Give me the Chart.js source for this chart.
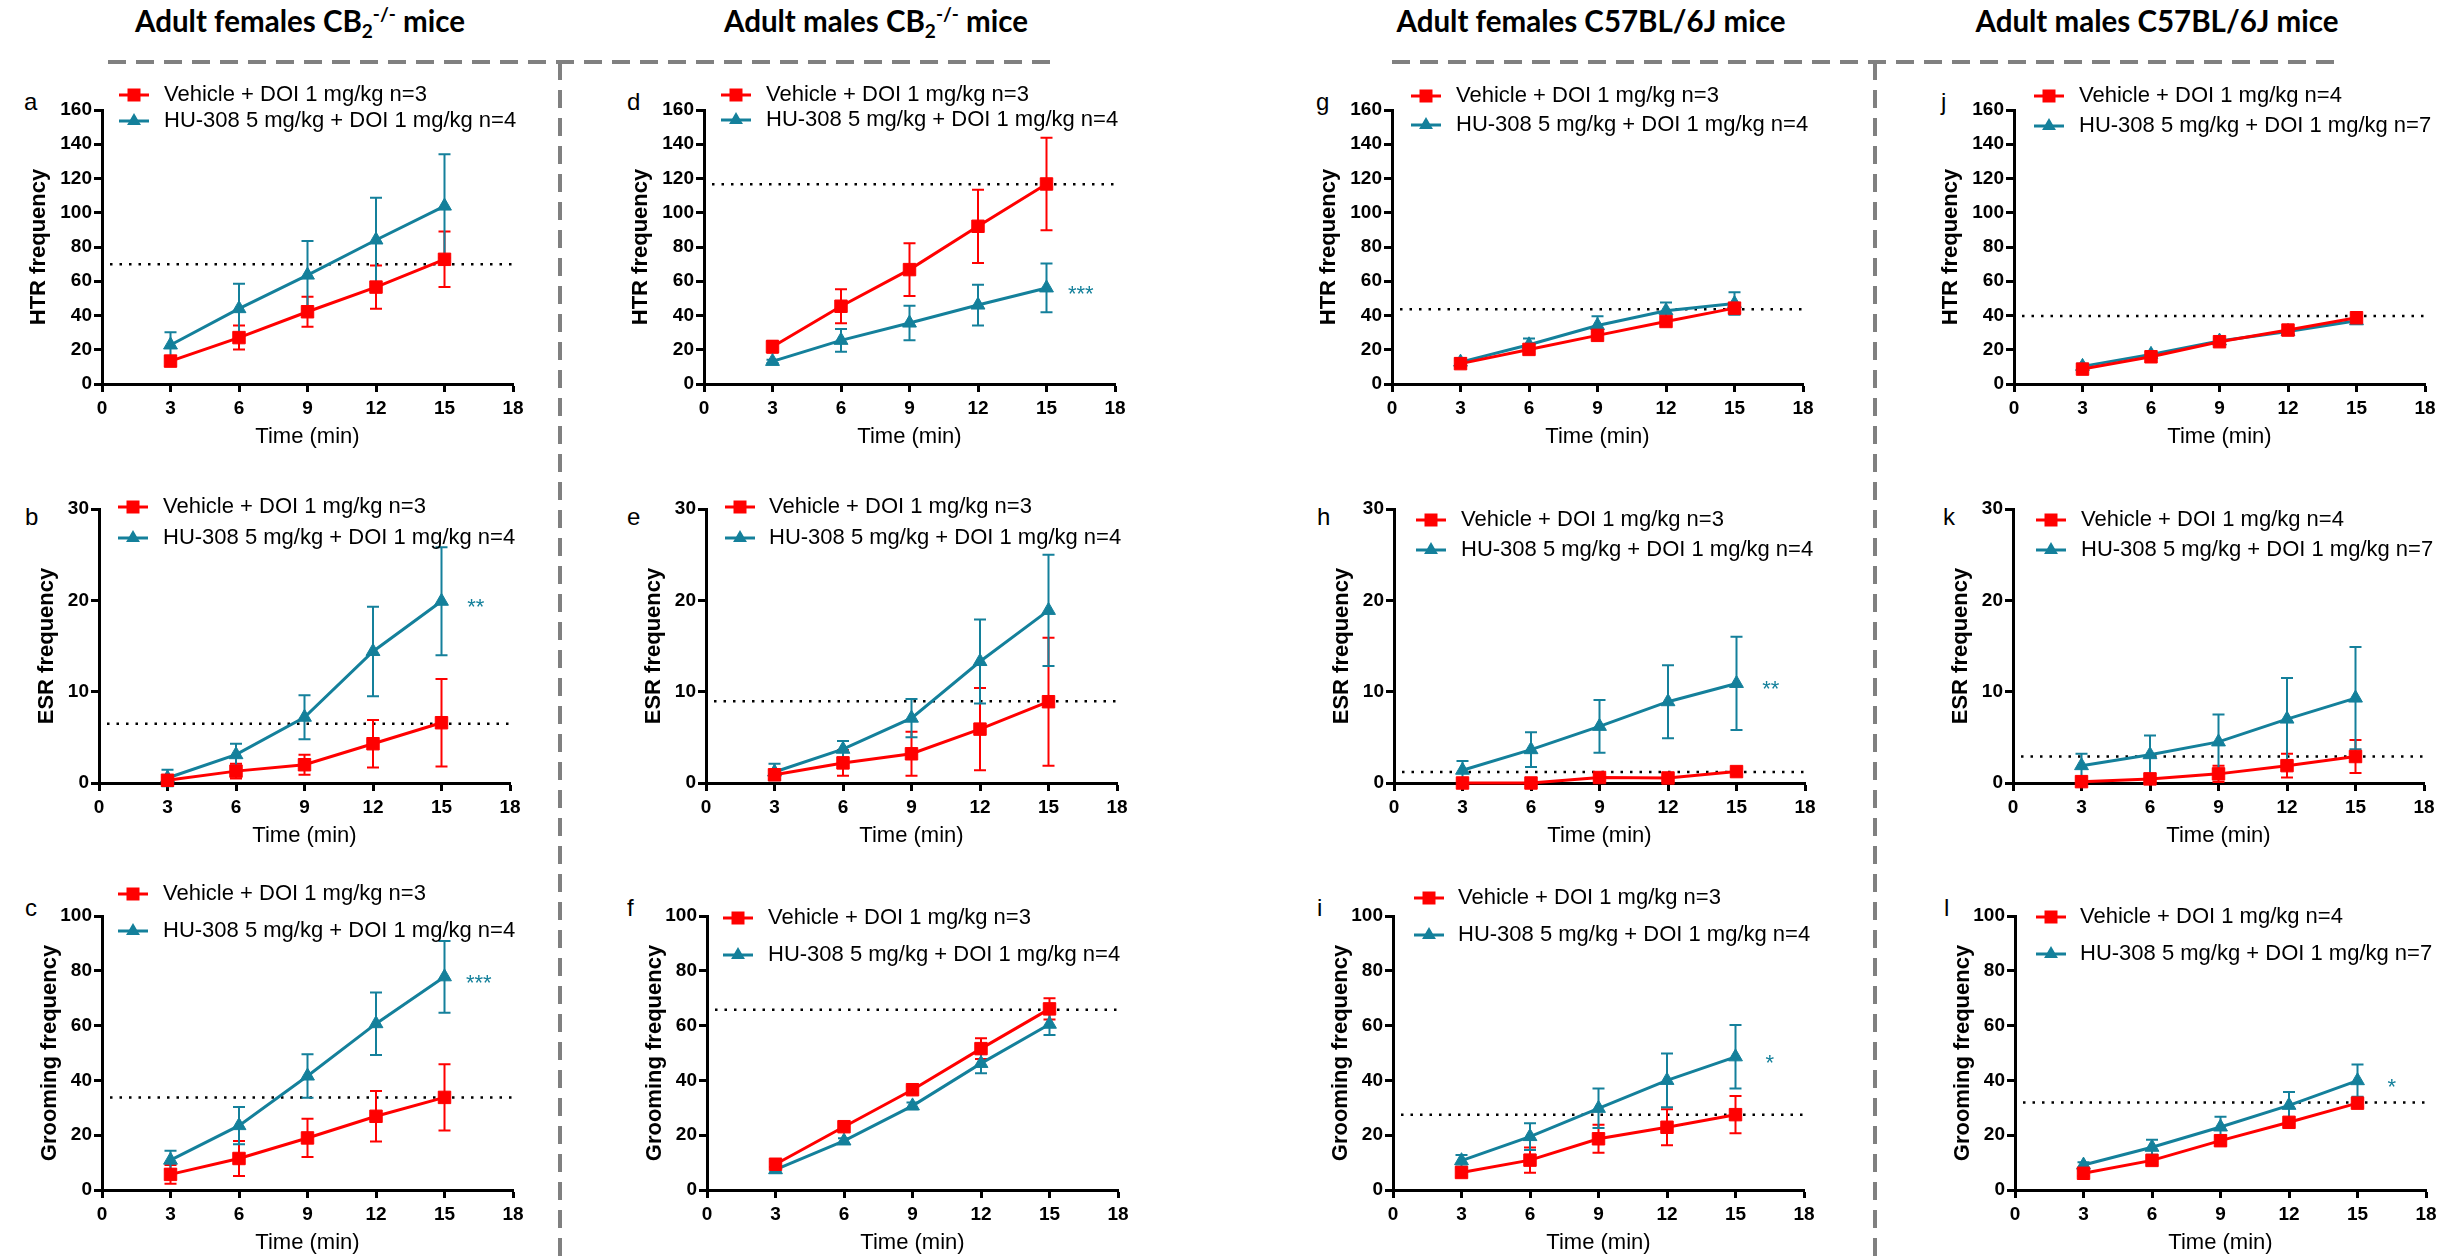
<!DOCTYPE html>
<html>
<head>
<meta charset="utf-8">
<script src="https://cdn.jsdelivr.net/npm/chart.js@4.4.0/dist/chart.umd.min.js"></script>
<style>
  html, body { margin: 0; padding: 0; background: #fff; }
  #fig { position: relative; width: 2463px; height: 1258px; overflow: hidden; background: #fff; }
  #fig canvas, #fig svg { position: absolute; }
</style>
</head>
<body>
<div id="fig">
  <svg id="decor" width="2463" height="1258" style="left:0;top:0">
    <g stroke="#808080" stroke-width="4" stroke-dasharray="18 10" fill="none">
      <path d="M108 62 H1057"/>
      <path d="M560 62 V1258"/>
      <path d="M1392 62 H2342"/>
      <path d="M1875 62 V1258"/>
    </g>
    <g font-family="Lato, 'Open Sans', sans-serif" font-weight="700" font-size="29.5" fill="#000" text-anchor="middle">
      <text x="300" y="32">Adult females CB<tspan font-size="19" dy="6">2</tspan><tspan font-size="19" dy="-17">-/-</tspan><tspan dy="11"> mice</tspan></text>
      <text x="876" y="32">Adult males CB<tspan font-size="19" dy="6">2</tspan><tspan font-size="19" dy="-17">-/-</tspan><tspan dy="11"> mice</tspan></text>
      <text x="1591" y="32">Adult females C57BL/6J mice</text>
      <text x="2157" y="32">Adult males C57BL/6J mice</text>
    </g>
    <g id="letters" font-family="'Liberation Sans', Arial, sans-serif" font-size="24" fill="#000"></g>
  </svg>
</div>
<script>
// time points and axis ticks
const times = [3, 6, 9, 12, 15];
const xTicks = [0, 3, 6, 9, 12, 15, 18];
const htrTicks = [0, 20, 40, 60, 80, 100, 120, 140, 160];
const esrTicks = [0, 10, 20, 30];
const groomTicks = [0, 20, 40, 60, 80, 100];

// columns: CB2-/- females, CB2-/- males, C57BL/6J females, C57BL/6J males
const vehicleN = [3, 3, 3, 4];
const huN = [4, 4, 4, 7];

// HTR (panels a, d, g, j)
const htrVehicle = [
  [13.4, 27.1, 42.2, 56.6, 72.8],
  [21.8, 45.4, 66.8, 92.1, 116.8],
  [11.9, 20.2, 28.4, 36.5, 44.3],
  [8.7, 15.9, 24.7, 31.5, 38.7]
];
const htrVehicleSem = [
  [3, 7, 8.7, 12.6, 16.2],
  [3.5, 9.9, 15.4, 21.4, 27],
  [2, 2, 2, 2.5, 3],
  [1.5, 1.5, 1.5, 2, 2]
];
const htrHU = [
  [22.8, 44, 63.6, 84.1, 103.9],
  [13.2, 25.5, 35.6, 46.1, 56.1],
  [12.8, 22.9, 34.2, 42.8, 47],
  [10.3, 17.3, 25.1, 30.7, 36.9]
];
const htrHUSem = [
  [7.4, 14.6, 19.9, 24.7, 30.2],
  [1, 6.6, 10.1, 11.9, 14.2],
  [2.4, 3.7, 5.4, 4.8, 6.6],
  [1.5, 1.5, 1.5, 1.5, 1.5]
];
const htrRef = [70, 116.6, 43.6, 39.7];
const htrStars = ['', '***', '', ''];

// ESR (panels b, e, h, k)
const esrVehicle = [
  [0.3, 1.3, 2.0, 4.3, 6.6],
  [0.9, 2.2, 3.2, 5.9, 8.9],
  [0, 0, 0.6, 0.55, 1.25],
  [0.15, 0.45, 1.0, 1.9, 2.9]
];
const esrVehicleSem = [
  [0.3, 0.8, 1.1, 2.6, 4.8],
  [0.5, 1.4, 2.4, 4.5, 7],
  [0, 0, 0.3, 0.3, 0.3],
  [0.15, 0.3, 0.9, 1.3, 1.8]
];
const esrHU = [
  [0.55, 3.1, 7.2, 14.4, 19.9],
  [1.2, 3.7, 7.1, 13.3, 18.9],
  [1.4, 3.65, 6.2, 8.9, 10.9],
  [1.9, 3.1, 4.5, 7.0, 9.3]
];
const esrHUSem = [
  [0.9, 1.2, 2.4, 4.9, 5.9],
  [0.9, 0.9, 2.1, 4.6, 6.1],
  [1.0, 1.9, 2.9, 4.0, 5.1],
  [1.3, 2.1, 3.0, 4.5, 5.6]
];
const esrRef = [6.5, 8.95, 1.2, 2.9];
const esrStars = ['**', '', '**', ''];

// Grooming (panels c, f, i, l)
const groomVehicle = [
  [5.7, 11.5, 19.0, 26.9, 33.8],
  [9.4, 23.1, 36.6, 51.6, 66.1],
  [6.4, 10.9, 18.7, 22.9, 27.5],
  [6.1, 10.8, 18.0, 24.7, 31.7]
];
const groomVehicleSem = [
  [3.4, 6.4, 7.0, 9.2, 12.1],
  [1, 1, 1.2, 3.8, 3.9],
  [1.5, 4.6, 5.1, 6.6, 6.8],
  [1, 1.2, 1.8, 1.5, 1.5]
];
const groomHU = [
  [10.9, 23.5, 41.6, 60.7, 77.8],
  [7.4, 17.9, 30.7, 46.2, 60.5],
  [10.7, 19.5, 29.8, 40.0, 48.6],
  [9.1, 15.6, 23.0, 30.9, 39.9]
];
const groomHUSem = [
  [3.4, 6.8, 7.9, 11.4, 13.1],
  [1, 1, 1.2, 3.6, 3.9],
  [2.1, 4.9, 7.2, 9.8, 11.6],
  [1, 2.7, 3.7, 4.9, 5.9]
];
const groomRef = [33.8, 65.8, 27.5, 31.9];
const groomStars = ['***', '', '*', '*'];

const RED = '#ff0000';
const TEAL = '#14809b';
const FONT = '"Liberation Sans", Arial, sans-serif';
const STAR_X = 16.5;

const measures = [
  { title: 'HTR frequency', ticks: htrTicks, veh: htrVehicle, vehSem: htrVehicleSem, hu: htrHU, huSem: htrHUSem, ref: htrRef, stars: htrStars },
  { title: 'ESR frequency', ticks: esrTicks, veh: esrVehicle, vehSem: esrVehicleSem, hu: esrHU, huSem: esrHUSem, ref: esrRef, stars: esrStars },
  { title: 'Grooming frequency', ticks: groomTicks, veh: groomVehicle, vehSem: groomVehicleSem, hu: groomHU, huSem: groomHUSem, ref: groomRef, stars: groomStars }
];

// page geometry
const plotW = 411, plotH = 274;
const LPAD = 100, RPAD = 50, TPAD = 60, BPAD = 80;
const plotLeft = [[102, 704, 1392, 2014], [99, 706, 1394, 2013], [102, 707, 1393, 2015]];
const plotTop = [110, 509, 916];
const yTitleGap = [63, 52, 52];
const letters = [['a', 'd', 'g', 'j'], ['b', 'e', 'h', 'k'], ['c', 'f', 'i', 'l']];
const letterX = [[24, 627, 1316, 1941], [25, 627, 1317, 1943], [25, 627, 1317, 1944]];
const letterBase = [110, 525, 916];
const legendX = [[[17, 62], [17, 62], [19, 64], [20, 65]], [[19, 64], [19, 63], [22, 67], [23, 68]], [[16, 61], [16, 61], [21, 65], [21, 65]]];
const legendY = [[[95, 121], [95, 120], [96, 125], [96, 126]], [[507, 538], [507, 538], [520, 550], [520, 550]], [[894, 931], [918, 955], [898, 935], [917, 954]]];

Chart.defaults.font.family = FONT;
Chart.defaults.color = '#000';

function drawMarker(ctx, style, cx, cy, color) {
  ctx.fillStyle = color;
  ctx.beginPath();
  if (style === 'rect') {
    ctx.rect(cx - 6.5, cy - 6.5, 13, 13);
  } else {
    ctx.moveTo(cx, cy - 8);
    ctx.lineTo(cx + 6.93, cy + 4);
    ctx.lineTo(cx - 6.93, cy + 4);
    ctx.closePath();
  }
  ctx.fill();
}

function extras(row, col) {
  const m = measures[row];
  return {
    id: 'panelExtras',
    beforeDatasetsDraw(chart) {
      const { ctx, chartArea, scales: { x, y } } = chart;
      ctx.save();
      // dotted reference line
      const ry = y.getPixelForValue(m.ref[col]);
      ctx.strokeStyle = '#000';
      ctx.lineWidth = 2.5;
      ctx.setLineDash([2.5, 7]);
      ctx.beginPath();
      ctx.moveTo(chartArea.left + 8, ry);
      ctx.lineTo(chartArea.right, ry);
      ctx.stroke();
      ctx.setLineDash([]);
      // error bars (SEM)
      chart.data.datasets.forEach(ds => {
        ctx.strokeStyle = ds.borderColor;
        ctx.lineWidth = 2;
        ds.data.forEach((p, i) => {
          const e = ds.errors[i];
          if (!e) return;
          const px = x.getPixelForValue(p.x);
          const y1 = y.getPixelForValue(p.y - e);
          const y2 = y.getPixelForValue(p.y + e);
          ctx.beginPath();
          ctx.moveTo(px, y1); ctx.lineTo(px, y2);
          ctx.moveTo(px - 6, y1); ctx.lineTo(px + 6, y1);
          ctx.moveTo(px - 6, y2); ctx.lineTo(px + 6, y2);
          ctx.stroke();
        });
      });
      ctx.restore();
    },
    afterDatasetsDraw(chart) {
      const star = m.stars[col];
      if (!star) return;
      const { ctx, scales: { x, y } } = chart;
      const last = m.hu[col][m.hu[col].length - 1];
      ctx.save();
      ctx.fillStyle = TEAL;
      ctx.font = '22px ' + FONT;
      ctx.textAlign = 'center';
      ctx.textBaseline = 'alphabetic';
      ctx.fillText(star, x.getPixelForValue(STAR_X), y.getPixelForValue(last) + 13);
      ctx.restore();
    },
    afterDraw(chart) {
      const { ctx, chartArea } = chart;
      const [sx, tx] = legendX[row][col];
      ctx.save();
      chart.data.datasets.forEach((ds, k) => {
        const cy = legendY[row][col][k] - (plotTop[row] - TPAD);
        const x0 = chartArea.left + sx;
        ctx.strokeStyle = ds.borderColor;
        ctx.lineWidth = 3;
        ctx.beginPath();
        ctx.moveTo(x0, cy); ctx.lineTo(x0 + 30, cy);
        ctx.stroke();
        drawMarker(ctx, ds.pointStyle, x0 + 15, cy, ds.borderColor);
        ctx.fillStyle = '#000';
        ctx.font = '22px ' + FONT;
        ctx.textAlign = 'left';
        ctx.textBaseline = 'middle';
        ctx.fillText(ds.label, chartArea.left + tx, cy);
      });
      ctx.restore();
    }
  };
}

function makePanel(row, col) {
  const m = measures[row];
  const cv = document.createElement('canvas');
  cv.width = LPAD + plotW + RPAD;
  cv.height = TPAD + plotH + BPAD;
  cv.style.left = (plotLeft[row][col] - LPAD) + 'px';
  cv.style.top = (plotTop[row] - TPAD) + 'px';
  document.getElementById('fig').appendChild(cv);

  const series = (vals) => times.map((t, i) => ({ x: t, y: vals[i] }));

  new Chart(cv.getContext('2d'), {
    type: 'line',
    data: {
      datasets: [
        {
          label: `Vehicle + DOI 1 mg/kg n=${vehicleN[col]}`,
          data: series(m.veh[col]),
          errors: m.vehSem[col],
          borderColor: RED, backgroundColor: RED,
          pointStyle: 'rect', pointRadius: 8.8, pointBorderWidth: 1,
          borderWidth: 3, tension: 0, clip: false
        },
        {
          label: `HU-308 5 mg/kg + DOI 1 mg/kg n=${huN[col]}`,
          data: series(m.hu[col]),
          errors: m.huSem[col],
          borderColor: TEAL, backgroundColor: TEAL,
          pointStyle: 'triangle', pointRadius: 8, pointBorderWidth: 1,
          borderWidth: 3, tension: 0, clip: false
        }
      ]
    },
    options: {
      responsive: false,
      animation: false,
      devicePixelRatio: 1,
      layout: { padding: { top: TPAD, right: RPAD, left: 0, bottom: 0 } },
      plugins: { legend: { display: false }, tooltip: { enabled: false } },
      scales: {
        x: {
          type: 'linear', min: 0, max: 18,
          afterFit: s => { s.height = BPAD; },
          afterBuildTicks: s => { s.ticks = xTicks.map(v => ({ value: v })); },
          ticks: { font: { size: 19, weight: 'bold' }, color: '#000', padding: 5, autoSkip: false, maxRotation: 0 },
          grid: { drawOnChartArea: false, drawTicks: true, tickLength: 8, tickWidth: 3, tickColor: '#000' },
          border: { color: '#000', width: 3 },
          title: { display: true, text: 'Time (min)', color: '#000', font: { size: 22 }, padding: { top: 0, bottom: BPAD - 53 - 13.2 } }
        },
        y: {
          type: 'linear', min: 0, max: m.ticks[m.ticks.length - 1],
          afterFit: s => { s.width = LPAD; },
          afterBuildTicks: s => { s.ticks = m.ticks.map(v => ({ value: v })); },
          ticks: { font: { size: 19, weight: 'bold' }, color: '#000', padding: 2, autoSkip: false },
          grid: { drawOnChartArea: false, drawTicks: true, tickLength: 8, tickWidth: 3, tickColor: '#000' },
          border: { color: '#000', width: 3 },
          title: { display: true, text: m.title, color: '#000', font: { size: 22, weight: 'bold' }, padding: { top: LPAD - yTitleGap[row] - 13.2, bottom: 0 } }
        }
      }
    },
    plugins: [extras(row, col)]
  });
}

// panel letters
const lg = document.getElementById('letters');
letters.forEach((rowL, r) => rowL.forEach((ch, c) => {
  const t = document.createElementNS('http://www.w3.org/2000/svg', 'text');
  t.setAttribute('x', letterX[r][c]);
  t.setAttribute('y', letterBase[r]);
  t.textContent = ch;
  lg.appendChild(t);
}));

for (let r = 0; r < 3; r++) {
  for (let c = 0; c < 4; c++) makePanel(r, c);
}
</script>
</body>
</html>
